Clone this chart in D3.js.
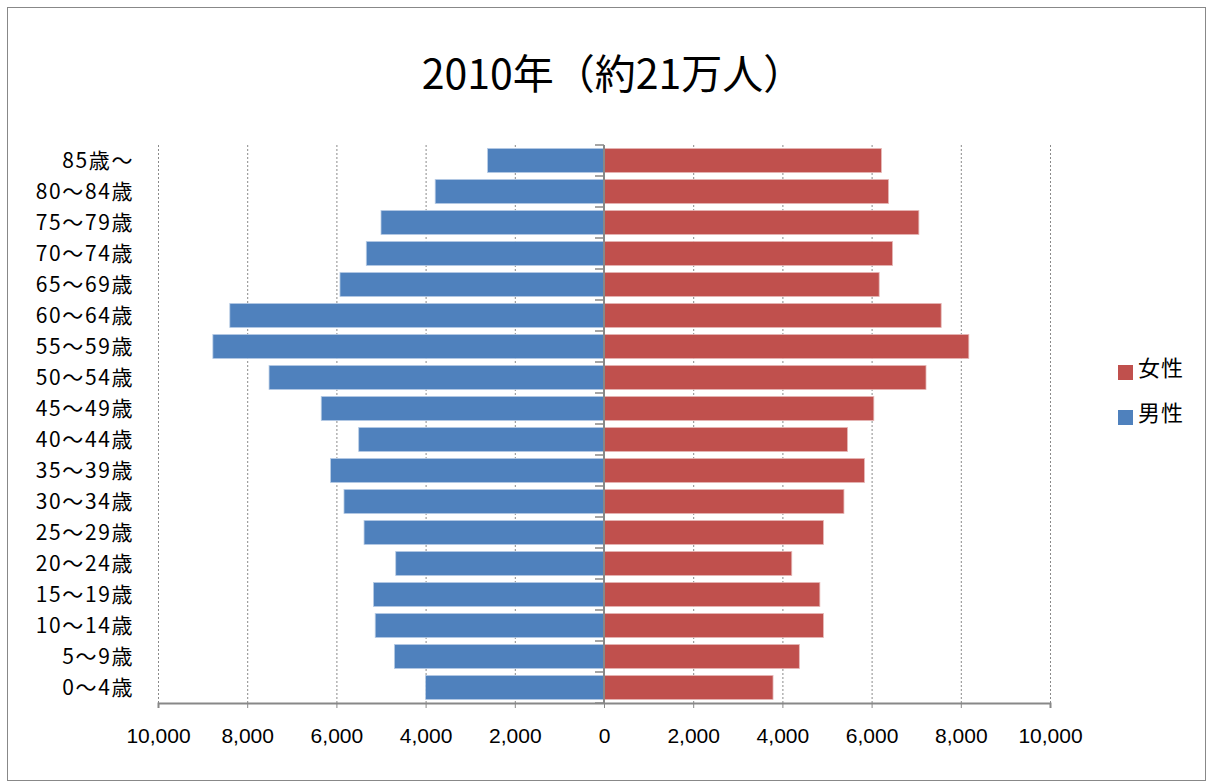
<!DOCTYPE html>
<html>
<head>
<meta charset="utf-8">
<script src="https://cdn.jsdelivr.net/npm/d3@7"></script>
<style>
  body { margin: 0; background: #fff; }
  text { font-family: "Noto Sans CJK JP", sans-serif; }
</style>
</head>
<body>
<script>
// age groups, oldest first (top of chart)
var ageGroups = ["85歳〜", "80〜84歳", "75〜79歳", "70〜74歳", "65〜69歳", "60〜64歳",
    "55〜59歳", "50〜54歳", "45〜49歳", "40〜44歳", "35〜39歳", "30〜34歳",
    "25〜29歳", "20〜24歳", "15〜19歳", "10〜14歳", "5〜9歳", "0〜4歳"];

var male = [2610, 3785, 5000, 5330, 5920, 8390, 8770, 7510, 6340,
    5500, 6130, 5830, 5380, 4670, 5170, 5130, 4700, 4000];

var female = [6220, 6380, 7060, 6470, 6170, 7560, 8180, 7220, 6050,
    5460, 5840, 5380, 4920, 4210, 4840, 4920, 4380, 3790];

var tickValues = [-10000, -8000, -6000, -4000, -2000, 0, 2000, 4000, 6000, 8000, 10000];
var legendItems = [{ name: "女性", color: "#C0504D" }, { name: "男性", color: "#4F81BD" }];
var title = "2010年（約21万人）";

var width = 1213,
    height = 781,
    plotLeft = 158,
    plotRight = 1050,
    plotTop = 145,
    plotBottom = 703;

var svg = d3.select("body").append("svg")
    .attr("width", width)
    .attr("height", height);

// outer chart border
svg.append("rect")
    .attr("x", 7.5).attr("y", 7.5)
    .attr("width", width - 15).attr("height", height - 8)
    .attr("fill", "#fff")
    .attr("stroke", "#888")
    .attr("stroke-width", 1);

svg.append("text")
    .attr("x", 613).attr("y", 89)
    .attr("text-anchor", "middle")
    .style("font-size", "41px")
    .text(title);

var x = d3.scaleLinear().domain([-10000, 10000]).range([plotLeft, plotRight]);
var y = d3.scaleBand().domain(ageGroups).range([plotTop, plotBottom]).paddingInner(0.22).paddingOuter(0.11);

// dotted gridlines
svg.append("g")
    .selectAll("line")
    .data(tickValues.filter(function (d) { return d !== 0; }))
    .enter().append("line")
    .attr("x1", function (d) { return x(d) + 0.5; })
    .attr("x2", function (d) { return x(d) + 0.5; })
    .attr("y1", plotTop)
    .attr("y2", plotBottom)
    .attr("stroke", "#8a8a8a")
    .attr("stroke-width", 1)
    .attr("stroke-dasharray", "2,2");

// bars
svg.append("g")
    .selectAll("rect")
    .data(male)
    .enter().append("rect")
    .attr("x", function (d) { return x(-d); })
    .attr("y", function (d, i) { return y(ageGroups[i]); })
    .attr("width", function (d) { return x(0) - x(-d); })
    .attr("height", y.bandwidth())
    .attr("fill", "#4F81BD")
    .attr("stroke", "#b9cde5")
    .attr("stroke-width", 0.8);

svg.append("g")
    .selectAll("rect")
    .data(female)
    .enter().append("rect")
    .attr("x", x(0))
    .attr("y", function (d, i) { return y(ageGroups[i]); })
    .attr("width", function (d) { return x(d) - x(0); })
    .attr("height", y.bandwidth())
    .attr("fill", "#C0504D")
    .attr("stroke", "#e6b9b8")
    .attr("stroke-width", 0.8);

// bottom axis
var xAxis = d3.axisBottom(x)
    .tickValues(tickValues)
    .tickSize(5)
    .tickPadding(20)
    .tickFormat(function (d) { return d3.format(",")(Math.abs(d)); });

var gx = svg.append("g")
    .attr("transform", "translate(0," + plotBottom + ")")
    .call(xAxis);
gx.select(".domain").attr("stroke", "#888").attr("stroke-width", 2);
gx.selectAll(".tick line").attr("stroke", "#888").attr("stroke-width", 1);
gx.selectAll(".tick text")
    .attr("fill", "#000")
    .style("font-size", "21px")
    .style("font-family", "'Liberation Sans', sans-serif");

// vertical category axis at zero
var bandTicks = ageGroups.map(function (d) { return y(d) - y.step() * y.paddingInner() / 2; });
bandTicks.push(plotBottom);
var gy = svg.append("g");
gy.selectAll("line")
    .data(bandTicks)
    .enter().append("line")
    .attr("x1", x(0) - 9)
    .attr("x2", x(0))
    .attr("y1", function (d) { return d; })
    .attr("y2", function (d) { return d; })
    .attr("stroke", "#888")
    .attr("stroke-width", 1.5);
gy.append("line")
    .attr("x1", x(0)).attr("x2", x(0))
    .attr("y1", plotTop).attr("y2", plotBottom)
    .attr("stroke", "#888")
    .attr("stroke-width", 2);

// category labels
svg.append("g")
    .selectAll("text")
    .data(ageGroups)
    .enter().append("text")
    .attr("x", 134)
    .attr("y", function (d) { return y(d) + y.bandwidth() / 2; })
    .attr("dy", "0.35em")
    .attr("text-anchor", "end")
    .style("font-size", "21px")
    .style("letter-spacing", "1.6px")
    .text(function (d) { return d; });

// legend
var legend = svg.append("g")
    .selectAll("g")
    .data(legendItems)
    .enter().append("g")
    .attr("transform", function (d, i) { return "translate(1118," + (365 + i * 45) + ")"; });
legend.append("rect")
    .attr("width", 15).attr("height", 15)
    .attr("fill", function (d) { return d.color; });
legend.append("text")
    .attr("x", 20).attr("y", 3)
    .attr("dy", "0.35em")
    .style("font-size", "22px")
    .style("letter-spacing", "1px")
    .text(function (d) { return d.name; });
</script>
</body>
</html>
